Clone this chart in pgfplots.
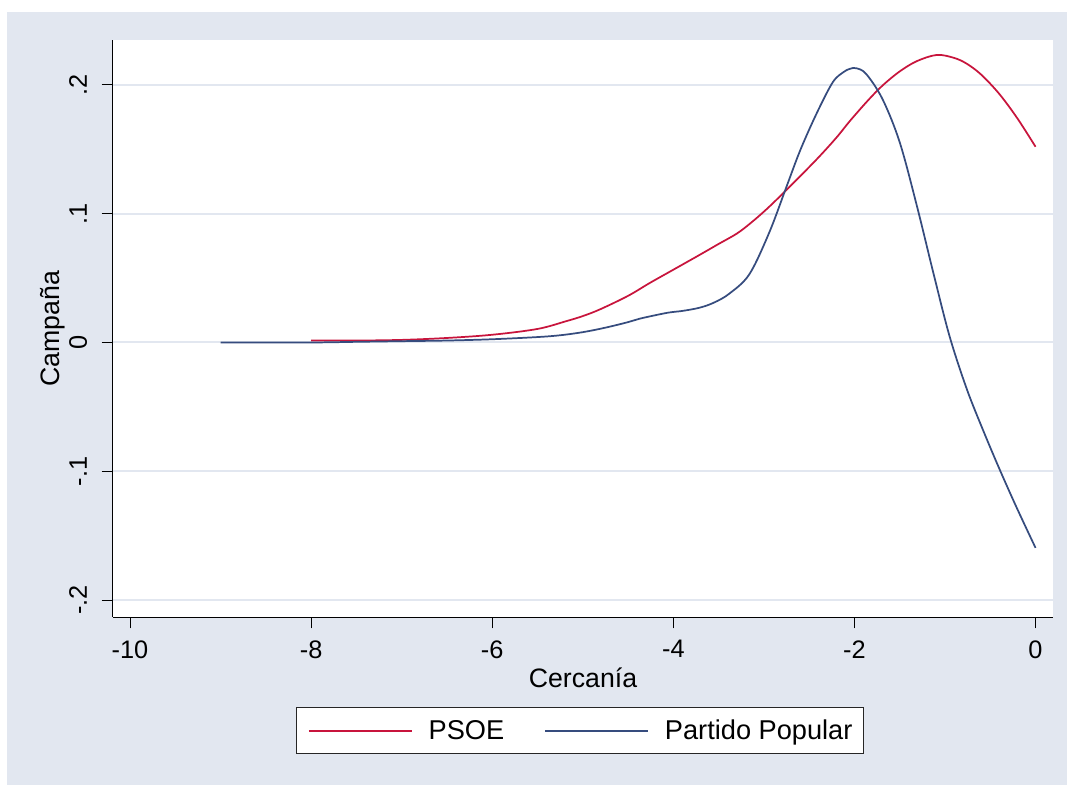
\documentclass[border=0pt]{standalone}
\usepackage{fontspec}
\setmainfont{Liberation Sans}
\usepackage{pgfplots}
\pgfplotsset{compat=1.18}
\definecolor{bgc}{RGB}{226,231,240}
\definecolor{psoe}{RGB}{200,20,60}
\definecolor{pp}{RGB}{54,76,126}
\begin{document}
\begin{tikzpicture}
\fill[white] (-84.75pt,-126pt) rectangle (715.5pt,462.75pt);
\fill[bgc] (-79.5pt,-126pt) rectangle (715.5pt,453.75pt);
\begin{axis}[at={(0pt,0pt)}, anchor=south west, scale only axis,
  width=705pt, height=432.75pt,
  xmin=-10.188, xmax=0.193, ymin=-0.2132, ymax=0.2349,
  axis x line*=bottom, axis y line*=left,
  axis line style={-, line width=0.75pt, black},
  axis background/.style={fill=white},
  xtick={-10,-8,-6,-4,-2,0}, xticklabels={-10,-8,-6,-4,-2,0},
  ytick={-0.2,-0.1,0,0.1,0.2}, yticklabels={-.2,-.1,0,.1,.2},
  tick align=outside, major tick length=8.5pt,
  tick style={line width=0.75pt, black},
  ymajorgrids, grid style={bgc, line width=1.5pt},
  /pgf/number format/assume math mode=true,
  ticklabel style={font=\fontsize{19}{21}\selectfont},
  xticklabel style={yshift=-5.5pt},
  yticklabel style={rotate=90, anchor=south, inner ysep=10.8pt},
  xlabel={Cercanía}, ylabel={Campaña},
  label style={font=\fontsize{20}{22}\selectfont},
  ylabel style={yshift=-11pt},
  legend style={at={(0.497,-0.197)}, anchor=center, draw=black!85, line width=0.75pt,
    fill=white, font=\fontsize{20.4}{23}\selectfont,
    nodes={inner xsep=0pt, inner ysep=0pt},
    /tikz/every odd column/.append style={column sep=12pt},
    /tikz/every even column/.append style={column sep=30pt},
    inner xsep=8.25pt, inner ysep=9pt},
  legend columns=2,
  legend image code/.code={\draw[#1] (0pt,0pt) -- (77.25pt,0pt);},
]
\addplot[psoe, line width=1.3pt, smooth, tension=0.55] coordinates {
(-8,0.0015) (-7.5,0.0015) (-7,0.002) (-6.5,0.0035) (-6,0.006) (-5.5,0.0105)
(-5.18,0.0166) (-5,0.0205) (-4.81,0.0257) (-4.5,0.0362) (-4.26,0.0462) (-4,0.0565)
(-3.71,0.068) (-3.5,0.0765) (-3.3,0.0845) (-3.15,0.0925) (-2.97,0.1035) (-2.75,0.1185)
(-2.42,0.142) (-2.2,0.159) (-2.05,0.172) (-1.85,0.188) (-1.69,0.1995) (-1.5,0.2105)
(-1.31,0.2185) (-1.09,0.2233) (-0.9,0.221) (-0.76,0.2165) (-0.6,0.208) (-0.4,0.193)
(-0.2,0.174) (0,0.152)
};
\addlegendentry{PSOE}
\addplot[pp, line width=1.3pt, smooth, tension=0.55] coordinates {
(-9,0) (-8,0) (-7.5,0.0005) (-7,0.001) (-6.5,0.0015) (-6,0.0025) (-5.5,0.0042)
(-5.25,0.0056) (-5,0.008) (-4.75,0.0115) (-4.5,0.0158) (-4.37,0.0185) (-4.07,0.023)
(-3.9,0.0245) (-3.71,0.027) (-3.55,0.031) (-3.38,0.038) (-3.16,0.053) (-2.94,0.0855)
(-2.75,0.121) (-2.6,0.149) (-2.42,0.1775) (-2.24,0.202) (-2.12,0.210) (-2.05,0.2125)
(-1.98,0.213) (-1.87,0.2085) (-1.69,0.189) (-1.5,0.1555) (-1.31,0.106) (-1.13,0.0545)
(-0.95,0.005) (-0.76,-0.036) (-0.58,-0.068) (-0.4,-0.098) (-0.21,-0.128) (0,-0.1595)
};
\addlegendentry{Partido Popular}
\end{axis}
\end{tikzpicture}
\end{document}
